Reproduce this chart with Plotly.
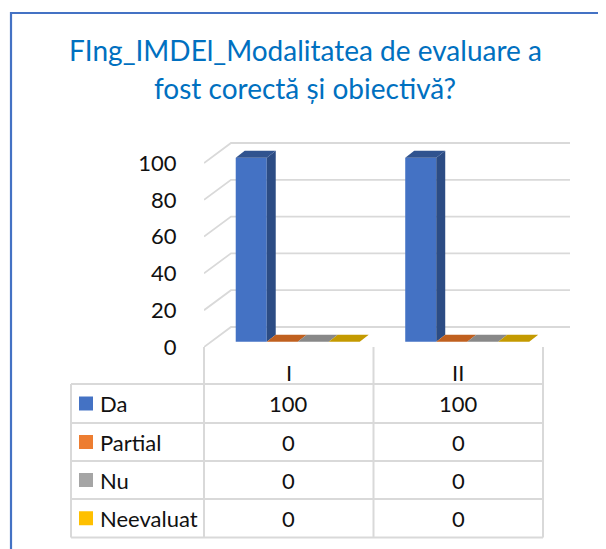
import plotly.graph_objects as go

categories = ['I', 'II']
series = ['Da', 'Partial', 'Nu', 'Neevaluat']
da_values = [100, 100]
partial_values = [0, 0]
nu_values = [0, 0]
neevaluat_values = [0, 0]
all_values = [da_values, partial_values, nu_values, neevaluat_values]
y_ticks = [0, 20, 40, 60, 80, 100]

title_lines = ['FIng_IMDEl_Modalitatea de evaluare a', 'fost corectă și obiectivă?']

front_colors = ['#4472C4', '#ED7D31', '#A5A5A5', '#FFC000']
side_colors = ['#2C4C84', '#A95420', '#7A7A7A', '#B88C00']
top_colors = ['#30538F', '#C0601F', '#888888', '#C49A00']

FONT = 'Lato, Carlito, sans-serif'
GRID = '#D9D9D9'
TXT = '#111111'

# the page body has an 8px margin, so the figure is drawn shifted by that much
OFF = 8
W, H = 606 - OFF, 549 - OFF

# plot area in pixels of the 606x549 page
PL, PR, PT, PB = 204, 572, 140, 347
CAT_PX = 169.5      # pixels per category
PX_UNIT = 1.84      # pixels per value unit
XMAX = (PR - PL) / CAT_PX
YMAX = (PB - PT) / PX_UNIT

# pseudo 3d offsets (data units)
WALL_DX, WALL_DY = 27 / CAT_PX, 20 / PX_UNIT
BAR_DX, BAR_DY = 0.265 * WALL_DX, 0.265 * WALL_DY
DEP_DX, DEP_DY = 9 / CAT_PX, 7 / PX_UNIT
BAR_W = 31 / CAT_PX
BAR_START = 0.145


def xp(px):
    return (px - PL) / (PR - PL)


def yp(py):
    return (PB - py) / (PB - PT)


fig = go.Figure()
shapes = []
annotations = []

# back wall + side wall gridlines (below the bars)
for t in y_ticks:
    shapes.append(dict(type='path', xref='x', yref='y', layer='below',
                       path=f'M0,{t} L{WALL_DX},{t + WALL_DY} L{len(categories) + WALL_DX},{t + WALL_DY}',
                       line=dict(color=GRID, width=1.8)))

# bars
for s, name in enumerate(series):
    for c, v in enumerate(all_values[s]):
        x0 = c + BAR_START + s * BAR_W + BAR_DX
        y0 = BAR_DY
        y1 = y0 + v
        x1 = x0 + BAR_W
        if v > 0:
            fig.add_trace(go.Bar(x=[x0 + BAR_W / 2], y=[v], base=[y0], width=[BAR_W],
                                 marker=dict(color=front_colors[s], line=dict(width=0)),
                                 showlegend=False, hoverinfo='skip'))
            fig.add_trace(go.Scatter(
                x=[x1, x1 + DEP_DX, x1 + DEP_DX, x1, x1],
                y=[y0, y0 + DEP_DY, y1 + DEP_DY, y1, y0],
                fill='toself', fillcolor=side_colors[s], mode='lines',
                line=dict(width=0), hoverinfo='skip', showlegend=False))
        fig.add_trace(go.Scatter(
            x=[x0, x1, x1 + DEP_DX, x0 + DEP_DX, x0],
            y=[y1, y1, y1 + DEP_DY, y1 + DEP_DY, y1],
            fill='toself', fillcolor=top_colors[s], mode='lines',
            line=dict(width=0), hoverinfo='skip', showlegend=False))

# outer chart border
shapes.append(dict(type='rect', xref='paper', yref='paper',
                   x0=xp(11), x1=xp(640), y0=yp(600), y1=yp(13),
                   line=dict(color='#4472C4', width=2.2)))

# data table grid
row_edges = [384, 423, 461, 499, 537.5]
col_edges = [PL, PL + CAT_PX, PL + 2 * CAT_PX]
for px in col_edges:
    shapes.append(dict(type='line', xref='paper', yref='paper',
                       x0=xp(px), x1=xp(px), y0=yp(PB), y1=yp(row_edges[-1]),
                       line=dict(color=GRID, width=2)))
shapes.append(dict(type='line', xref='paper', yref='paper',
                   x0=xp(71), x1=xp(71), y0=yp(row_edges[0]), y1=yp(row_edges[-1]),
                   line=dict(color=GRID, width=2)))
for py in row_edges:
    shapes.append(dict(type='line', xref='paper', yref='paper',
                       x0=xp(71), x1=xp(col_edges[-1]), y0=yp(py), y1=yp(py),
                       line=dict(color=GRID, width=2)))

# header row
for c, cat in enumerate(categories):
    annotations.append(dict(x=c + 0.5, xref='x', y=yp(372), yref='paper',
                            text=cat, showarrow=False, xanchor='center', yanchor='middle',
                            font=dict(family=FONT, size=22, color=TXT)))

# series rows with legend keys
for s, name in enumerate(series):
    top, bot = row_edges[s], row_edges[s + 1]
    mid = (top + bot) / 2
    shapes.append(dict(type='rect', xref='paper', yref='paper',
                       x0=xp(79), x1=xp(93), y0=yp(mid - 7), y1=yp(mid + 7),
                       fillcolor=front_colors[s], line=dict(width=0)))
    annotations.append(dict(x=xp(98), xref='paper', y=yp(mid), yref='paper',
                            text=name, showarrow=False, xanchor='left', yanchor='middle',
                            font=dict(family=FONT, size=22, color=TXT)))
    for c, v in enumerate(all_values[s]):
        annotations.append(dict(x=c + 0.5, xref='x', y=yp(mid), yref='paper',
                                text=str(v), showarrow=False, xanchor='center', yanchor='middle',
                                font=dict(family=FONT, size=22, color=TXT)))

# title
for i, line in enumerate(title_lines):
    annotations.append(dict(x=xp(305), xref='paper', y=yp(50 + 38 * i), yref='paper',
                            text=line, showarrow=False, xanchor='center', yanchor='middle',
                            font=dict(family=FONT, size=28, color='#0070C0')))

fig.update_layout(
    width=W, height=H,
    autosize=False,
    margin=dict(l=PL - OFF, r=W - (PR - OFF), t=PT - OFF, b=H - (PB - OFF), pad=0),
    paper_bgcolor='white', plot_bgcolor='white',
    barmode='overlay',
    showlegend=False,
    xaxis=dict(range=[0, XMAX], visible=False, fixedrange=True),
    yaxis=dict(range=[0, YMAX], tickvals=y_ticks, showgrid=False, zeroline=False,
               showline=False, ticks='outside', ticklen=22, tickcolor='rgba(0,0,0,0)',
               tickfont=dict(family=FONT, size=22, color=TXT), fixedrange=True),
    shapes=shapes,
    annotations=annotations,
)

fig.write_html('out.html')
